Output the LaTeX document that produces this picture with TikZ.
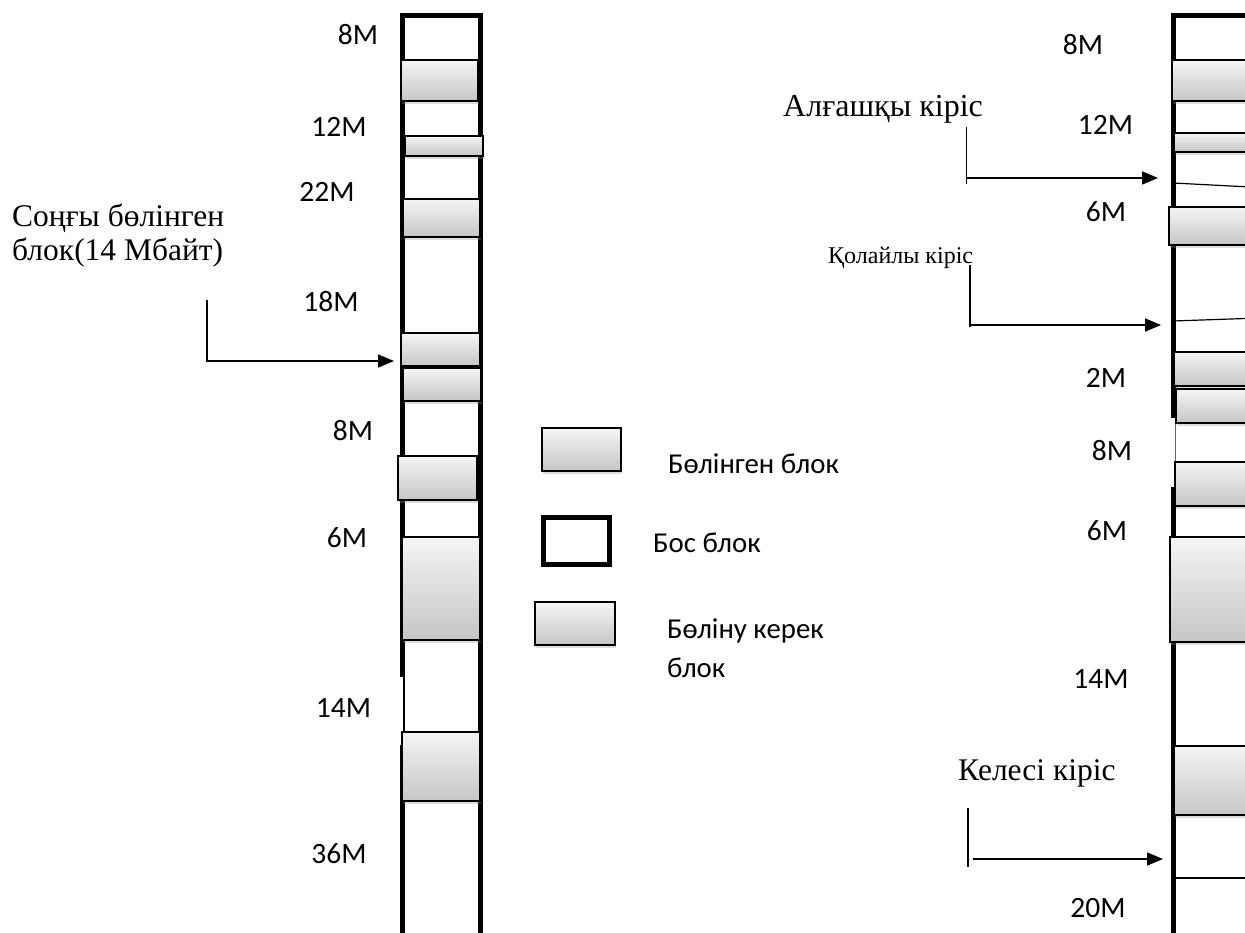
\documentclass[tikz,border=0pt]{standalone}
\usepackage{fontspec}
\setmainfont{Liberation Serif}
\newfontfamily\calib{Carlito}
\usetikzlibrary{arrows.meta,shadows}
\begin{document}
\begin{tikzpicture}[x=1pt,y=-1pt,
  blk/.style={draw=black, line width=1.6pt, top color=gray!8, bottom color=gray!45,
    inner sep=0pt, outer sep=0pt, anchor=north west,
    drop shadow={shadow xshift=1pt, shadow yshift=-3pt, opacity=0.3, fill=black!45}},
  col/.style={line width=5pt, line cap=butt, line join=miter},
  thinl/.style={line width=1.2pt},
  lab/.style={font=\calib\fontsize{29.5}{34}\selectfont, anchor=base, inner sep=0pt},
  leg/.style={font=\calib\fontsize{28.8}{34}\selectfont, anchor=base west, inner sep=0pt},
  ser/.style={font=\fontsize{31.5}{38}\selectfont, anchor=base west, inner sep=0pt},
  conn/.style={line width=1.5pt},
  arr/.style={line width=1.5pt, -{Triangle[length=16pt,width=13pt]}}]
\useasboundingbox (0,0) rectangle (1245,933);
\clip (0,0) rectangle (1245,933);

% ---------- left memory column ----------
\draw[col] (402.5,677) -- (402.5,15.5) -- (480.5,15.5) -- (480.5,940);
\draw[col] (402.5,745) -- (402.5,940);
\draw[line width=2pt] (404,677) -- (404,745);

\node[blk, minimum width=77pt, minimum height=41pt] (L1) at (401,60) {};
\node[blk, minimum width=78pt, minimum height=20pt] (L2) at (405,136) {};
\node[blk, minimum width=77pt, minimum height=38pt] (L3) at (403,199) {};
\node[blk, minimum width=79pt, minimum height=33pt] (L4) at (401,333) {};
\node[blk, minimum width=78pt, minimum height=33pt] (L5) at (403,368) {};
\node[blk, minimum width=79pt, minimum height=44pt] (L6) at (398,456) {};
\node[blk, minimum width=78pt, minimum height=103pt] (L7) at (402,537) {};
\node[blk, minimum width=78pt, minimum height=69pt] (L8) at (402,732) {};

\node[lab] (l8a) at (358,45) {8M};
\node[lab] (l12) at (339,137) {12M};
\node[lab] (l22) at (327,202) {22M};
\node[lab] (l18) at (331,312) {18M};
\node[lab] (l8b) at (353,440) {8M};
\node[lab] (l6) at (347,547) {6M};
\node[lab] (l14) at (343.5,717) {14M};
\node[lab] (l36) at (339,863) {36M};

% last allocated block annotation
\node[ser] (last1) at (12,227) {Соңғы бөлінген};
\node[ser] (last2) at (12,261) {блок(14 Мбайт)};
\coordinate (la0) at (207,300);
\coordinate (la1) at (207,361);
\coordinate (la2) at (394,361);
\draw[arr] (la0) -- (la1) -- (la2);

% ---------- legend ----------
\node[blk, minimum width=79pt, minimum height=43pt] (G1) at (542,428) {};
\node[draw=black, line width=5pt, minimum width=66pt, minimum height=47pt,
      inner sep=0pt, outer sep=0pt, anchor=north west] (G2) at (543.5,517.5) {};
\node[blk, minimum width=80pt, minimum height=43pt] (G3) at (535,602) {};
\node[leg] (t1) at (668,473) {Бөлінген блок};
\node[leg] (t2) at (653,552) {Бос блок};
\node[leg] (t3a) at (667,638) {Бөліну керек};
\node[leg] (t3b) at (667,677) {блок};

% ---------- right memory column ----------
\draw[col] (1173,418) -- (1173,15.5) -- (1260,15.5);
\draw[line width=1pt, black!60] (1175,418) -- (1175,487);
\draw[col] (1173,487) -- (1173,940);

\coordinate (r1a) at (1173,183);  \coordinate (r1b) at (1260,187.5);
\coordinate (r2a) at (1173,321);  \coordinate (r2b) at (1260,318);
\coordinate (r3a) at (1173,878);  \coordinate (r3b) at (1260,878);
\draw[thinl] (r1a) -- (r1b);
\draw[thinl] (r2a) -- (r2b);
\draw[thinl] (r3a) -- (r3b);

\node[blk, minimum width=90pt, minimum height=41pt] (R1) at (1172,60) {};
\node[blk, minimum width=90pt, minimum height=19pt] (R2) at (1174,133) {};
\node[blk, minimum width=95pt, minimum height=38pt] (R3) at (1169,207) {};
\node[blk, minimum width=90pt, minimum height=34pt] (R4) at (1174,352) {};
\node[blk, minimum width=90pt, minimum height=34pt] (R5) at (1176,389) {};
\node[blk, minimum width=90pt, minimum height=44pt] (R6) at (1175,462) {};
\node[blk, minimum width=95pt, minimum height=105pt] (R7) at (1170,537) {};
\node[blk, minimum width=90pt, minimum height=69pt] (R8) at (1174,746) {};

\node[lab] (r8a) at (1083,55) {8M};
\node[lab] (r12) at (1105.5,135) {12M};
\node[lab] (r6a) at (1106,222) {6M};
\node[lab] (r2) at (1106,387) {2M};
\node[lab] (r8b) at (1112,460) {8M};
\node[lab] (r6b) at (1107,540) {6M};
\node[lab] (r14) at (1101,688) {14M};
\node[lab] (r20) at (1098,917) {20M};

% first fit
\node[ser, font=\fontsize{32}{38}\selectfont] (first) at (783,117) {Алғашқы кіріс};
\coordinate (fa0) at (966.7,127);
\coordinate (fa1) at (966.7,184);
\coordinate (fa2) at (966.7,178);
\coordinate (fa3) at (1158,178);
\draw[conn] (fa0) -- (fa1);
\draw[arr] (fa2) -- (fa3);

% best fit
\node[ser, font=\fontsize{24}{28}\selectfont] (best) at (828,264) {Қолайлы кіріс};
\coordinate (ba0) at (970,265);
\coordinate (ba1) at (970,327);
\coordinate (ba2) at (970,325);
\coordinate (ba3) at (1161,325);
\draw[conn] (ba0) -- (ba1);
\draw[arr] (ba2) -- (ba3);

% next fit
\node[ser, font=\fontsize{31.5}{36}\selectfont] (next) at (958,780) {Келесі кіріс};
\coordinate (na0) at (968,808);
\coordinate (na1) at (968,867);
\coordinate (na2) at (973,859);
\coordinate (na3) at (1163,859);
\draw[conn] (na0) -- (na1);
\draw[arr] (na2) -- (na3);
\end{tikzpicture}
\end{document}
